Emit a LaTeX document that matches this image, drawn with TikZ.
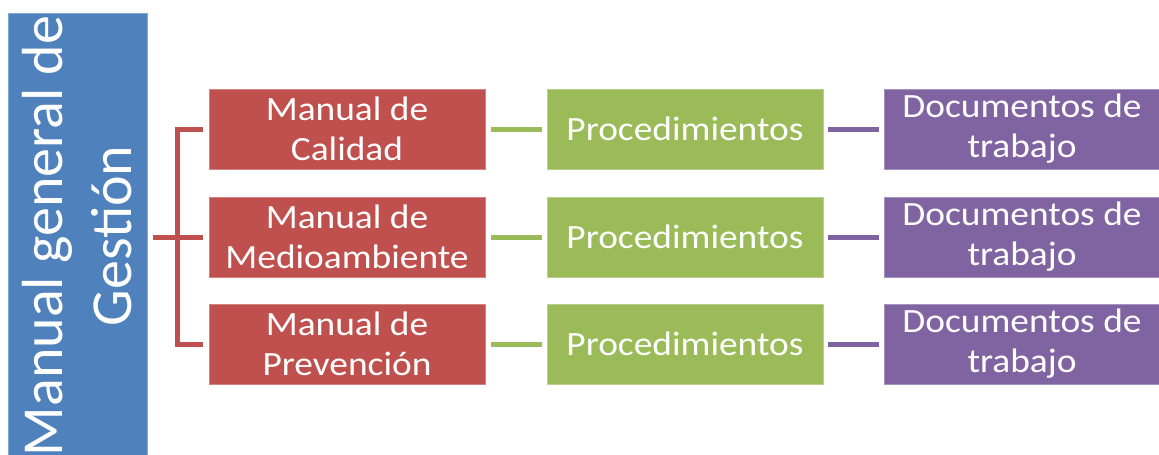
\documentclass[tikz,border=0pt]{standalone}
\usepackage{fontspec}
\setmainfont{Carlito}
\newfontfamily\boxfont{Carlito}[FakeStretch=1.1]
\definecolor{cblue}{HTML}{4F81BD}
\definecolor{cred}{HTML}{C0504D}
\definecolor{cgreen}{HTML}{9BBB59}
\definecolor{cpurple}{HTML}{8064A2}
\tikzset{
  box/.style={minimum width=276pt, minimum height=80pt, inner sep=0pt, text=white,
    align=center, font=\boxfont\fontsize{34}{40}\selectfont, line width=0.8pt},
  redbox/.style={box, fill=cred, draw=cred!70!white},
  greenbox/.style={box, fill=cgreen, draw=cgreen!70!white},
  purplebox/.style={box, fill=cpurple, draw=cpurple!70!white},
  rline/.style={draw=cred, line width=5pt},
  gline/.style={draw=cgreen, line width=5pt, shorten <=6pt, shorten >=5pt},
  pline/.style={draw=cpurple, line width=5pt, shorten <=5pt, shorten >=5pt},
}
\begin{document}
\begin{tikzpicture}[x=1pt,y=-1pt]
\useasboundingbox (0,0) rectangle (1159,455);
\node[fill=cblue, draw=cblue!70!white, line width=0.8pt, rotate=90, minimum width=446pt, minimum height=139pt, inner sep=0pt,
  text=white, align=center, font=\fontsize{58}{69}\selectfont] (bar) at (77.5,236)
  {Manual general de\\Gestión};
\node[redbox] (r1) at (347,129) {Manual de\\Calidad};
\node[redbox] (r2) at (347,237) {Manual de\\Medioambiente};
\node[redbox] (r3) at (347,344) {Manual de\\Prevención};
\node[greenbox] (g1) at (685,129) {Procedimientos};
\node[greenbox] (g2) at (685,237) {Procedimientos};
\node[greenbox] (g3) at (685,344) {Procedimientos};
\node[purplebox] (p1) at (1022,129) {Documentos de\\trabajo};
\node[purplebox] (p2) at (1022,237) {Documentos de\\trabajo};
\node[purplebox] (p3) at (1022,344) {Documentos de\\trabajo};
\draw[rline, shorten <=6pt, shorten >=6pt] (r1.west) -- ++(-31,0) |- (r3.west);
\draw[rline, shorten <=6pt, shorten >=6pt] (bar.south |- r2.west) -- (r2.west);
\foreach \i in {1,2,3}{
  \draw[gline] (r\i.east) -- (g\i.west);
  \draw[pline] (g\i.east) -- (p\i.west);
}
\end{tikzpicture}
\end{document}
